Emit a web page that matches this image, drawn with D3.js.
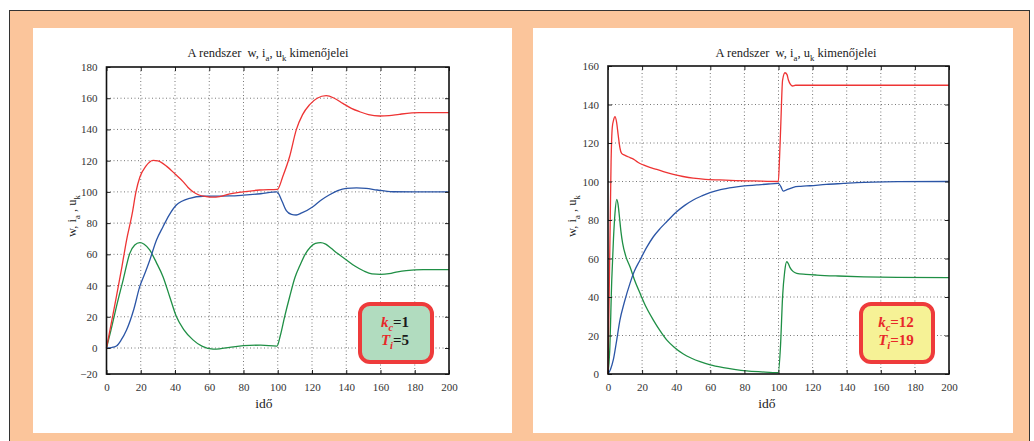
<!DOCTYPE html>
<html>
<head>
<meta charset="utf-8">
<script src="https://cdn.jsdelivr.net/npm/d3@7/dist/d3.min.js"></script>
<style>
  body { margin: 0; background: #fff; }
  svg { display: block; }
  svg text { font-family: "Liberation Serif", "DejaVu Serif", serif !important; white-space: pre; }
</style>
</head>
<body>
<script>
// ---- data ----
const timeTicks = [0, 20, 40, 60, 80, 100, 120, 140, 160, 180, 200];
const leftYTicks = [-20, 0, 20, 40, 60, 80, 100, 120, 140, 160, 180];
const rightYTicks = [0, 20, 40, 60, 80, 100, 120, 140, 160];

// left plot: kc = 1, Ti = 5   ([time, value])
const leftSpeed = [[0,0],[3,0.3],[5.8,1.3],[8.5,5],[11.7,11.5],[16,25],[19.4,39.3],[22.5,48],[25.3,56.4],[29.2,69.2],[33,77.7],[36.5,85],[40.8,91.6],[44,94],[48.6,95.9],[56.3,97.2],[65,97.3],[72,97.4],[80,97.9],[90,98.8],[99.5,100],[102.5,94],[105,88],[108,85.6],[110.8,85.2],[114,86.5],[120.5,90.5],[125,94.5],[130,98],[135,100.8],[140,102.3],[146,102.6],[151.6,102.3],[158,101.2],[167,100.1],[180,100],[200,100]];
const leftCurrent = [[0,0],[3,17],[5.8,33],[9,52],[11.7,69],[15,86],[17.2,100],[19.5,109.5],[23,116.5],[27.2,120.2],[30,119.8],[35,116.5],[40,111.5],[44.7,106.6],[47.5,103],[50.5,100.1],[54,98],[58.3,97],[62,96.6],[66,97],[72,98.7],[79.7,100],[89.4,101.2],[99.8,101.6],[103,110],[106.9,122.5],[110.8,139.7],[114.5,149.5],[118.5,155.7],[123,160],[128.3,161.6],[133,160],[138,156.7],[143,153.5],[147.7,151.4],[153,149.5],[159.4,148.6],[165,148.8],[171,149.7],[182.7,150.8],[200,150.8]];
const leftVoltage = [[0,0],[2.5,11],[5.8,26.5],[9.7,43.5],[13.6,60.6],[16.5,66],[19.4,67.5],[22,66.5],[25.2,62.8],[29,55],[33,45.7],[37,32.5],[40.8,20.1],[45,12],[50.5,5.2],[56,1],[62.2,-0.8],[66,-0.6],[71.9,0.4],[80,1.5],[90,1.8],[99.5,1.2],[101.5,8],[104,20],[107,33],[110,45],[113,53],[116,60],[119,64.5],[122,67],[125,67.5],[128,66.5],[131,64],[135,60.5],[140,56.5],[145,52.5],[150,49.5],[155,47.5],[160,47.2],[165,47.6],[170,48.8],[175,49.6],[185,50.2],[200,50.2]];

// right plot: kc = 12, Ti = 19
const rightSpeed = [[0,0],[1.5,2.5],[3.1,7.3],[5,17],[7,28],[9.5,37],[12.9,47.1],[15.5,53.5],[18.8,59.2],[22.5,65.5],[26.6,71.3],[30.5,75.5],[34.4,79.1],[40.3,84.3],[45,87.6],[50,90.4],[55,92.5],[59.8,94.2],[66,95.8],[73.5,97],[80,97.7],[87.2,98.2],[94,98.7],[99.9,99],[101.3,97.5],[102.8,95],[105,95.8],[108.7,97],[113,97.5],[118.5,97.8],[128,98.5],[138,99],[146,99.4],[155.6,99.7],[170,99.9],[200,100]];
const rightCurrent = [[0,0],[1,60],[1.8,110],[2.5,128],[3.3,132],[4.1,133.7],[5,131],[6,124],[7,117.5],[8,114.6],[10,113.6],[12.9,112.4],[14.9,111.6],[17.5,110],[20.7,108.6],[24.5,107.3],[28.6,106.3],[33,105],[38.3,103.7],[44,102.6],[50,101.7],[57,101.1],[65.7,100.8],[75,100.5],[85.2,100.3],[99.9,100],[100.6,112],[101.3,128.5],[102.4,152.7],[103.8,156.5],[105,155.5],[105.8,152.7],[107,150.5],[108.3,149.6],[110,150],[130,150],[160,150],[200,150]];
const rightVoltage = [[0,0],[1,12],[2.2,48.8],[3.2,70],[4.1,83.5],[5.1,90.7],[6,87.5],[6.7,81.7],[7.6,74],[8.6,67.9],[10.5,61],[12.9,55.7],[15.5,49],[18.8,41.9],[22.5,34.5],[26.6,28],[30.5,22.5],[34.4,17.7],[39,13.8],[44.2,10.4],[49,8.2],[54,6.4],[60,4.7],[67.6,3.3],[74,2.4],[81.3,1.6],[90,1.1],[99.9,0.7],[101.2,15],[102.4,40.2],[103.6,53],[104.8,58.3],[105.8,57.3],[106.7,55.4],[108.5,53.3],[110.7,52.3],[116,51.8],[122.4,51.4],[135,50.9],[150,50.5],[170,50.2],[200,50.1]];

const lineColors = { speed: "#2b55a6", current: "#ee3434", voltage: "#1f8f45" };
const serif = "'Liberation Serif', 'DejaVu Serif', serif";

// ---- page ----
const W = 1034, H = 441;
const svg = d3.select("body").append("svg")
    .attr("width", W)
    .attr("height", H)
    .attr("font-family", serif);

// orange frame
svg.append("rect")
    .attr("x", 9.5).attr("y", 10.5)
    .attr("width", 1020).attr("height", 440)
    .attr("fill", "#fbc59b")
    .attr("stroke", "#333")
    .attr("stroke-width", 1);

// white sheets
svg.append("rect").attr("x", 33).attr("y", 28).attr("width", 479).attr("height", 405).attr("fill", "#fff");
svg.append("rect").attr("x", 533).attr("y", 28).attr("width", 480).attr("height", 405).attr("fill", "#fff");

// text made of pieces, with subscripts
function richText(g, x, y, parts, size, anchor) {
    let t = g.append("text")
        .attr("x", x).attr("y", y)
        .attr("text-anchor", anchor || "middle")
        .attr("font-family", serif)
        .style("font-size", size + "px");
    let shift = 0;
    parts.forEach(p => {
        let dy = (p.sub ? size * 0.28 : 0) - shift;
        shift += dy;
        let s = t.append("tspan")
            .attr("dy", dy)
            .style("font-size", (p.sub ? size * 0.7 : size) + "px")
            .text(p.t);
        if (p.fill) s.attr("fill", p.fill);
        if (p.italic) s.style("font-style", "italic");
        if (p.bold) s.style("font-weight", "bold");
    });
    return t;
}

const titleParts = [{ t: "A rendszer  w, i" }, { t: "a", sub: true }, { t: ", u" }, { t: "k", sub: true }, { t: " kimenőjelei" }];
const ylabParts = [{ t: "w, i" }, { t: "a", sub: true }, { t: " , u" }, { t: "k", sub: true }];

function drawPanel(cfg) {
    const g = svg.append("g");
    const x = d3.scaleLinear().domain([0, 200]).range([cfg.x0, cfg.x1]);
    const y = d3.scaleLinear().domain(cfg.yDomain).range(cfg.yRange);
    const yTop = cfg.yRange[cfg.yRange.length - 1], yBot = cfg.yRange[0];

    // grid
    g.append("g").selectAll("line")
        .data(timeTicks.slice(1, -1))
        .enter().append("line")
        .attr("x1", d => x(d)).attr("x2", d => x(d))
        .attr("y1", yTop).attr("y2", yBot)
        .attr("stroke", "#555").attr("stroke-width", 0.8)
        .attr("stroke-dasharray", "1,2.5");
    g.append("g").selectAll("line")
        .data(cfg.yTicks.slice(1, -1))
        .enter().append("line")
        .attr("y1", d => y(d)).attr("y2", d => y(d))
        .attr("x1", cfg.x0).attr("x2", cfg.x1)
        .attr("stroke", "#555").attr("stroke-width", 0.8)
        .attr("stroke-dasharray", "1,2.5");

    // curves
    const line = d3.line()
        .x(d => x(d[0]))
        .y(d => y(d[1]))
        .curve(d3.curveMonotoneX);
    [["voltage", cfg.voltage], ["speed", cfg.speed], ["current", cfg.current]].forEach(([k, data]) => {
        g.append("path")
            .datum(data)
            .attr("d", line)
            .attr("fill", "none")
            .attr("stroke", lineColors[k])
            .attr("stroke-width", 1.3);
    });

    // axes: bottom/left with labels, top/right plain, ticks pointing in
    g.append("g")
        .attr("transform", `translate(0,${yBot})`)
        .call(d3.axisBottom(x).tickValues(timeTicks).tickSizeInner(-4).tickSizeOuter(0).tickPadding(9))
        .call(a => a.select(".domain").remove());
    g.append("g")
        .attr("transform", `translate(0,${yTop})`)
        .call(d3.axisTop(x).tickValues(timeTicks).tickSizeInner(-4).tickSizeOuter(0).tickFormat(""))
        .call(a => a.select(".domain").remove());
    g.append("g")
        .attr("transform", `translate(${cfg.x0},0)`)
        .call(d3.axisLeft(y).tickValues(cfg.yTicks).tickSizeInner(-4).tickSizeOuter(0).tickPadding(9))
        .call(a => a.select(".domain").remove());
    g.append("g")
        .attr("transform", `translate(${cfg.x1},0)`)
        .call(d3.axisRight(y).tickValues(cfg.yTicks).tickSizeInner(-4).tickSizeOuter(0).tickFormat(""))
        .call(a => a.select(".domain").remove());
    g.selectAll(".tick text")
        .attr("fill", "#333")
        .attr("font-family", serif)
        .style("font-size", "11px");
    g.selectAll(".tick line").attr("stroke", "#222");

    g.append("rect")
        .attr("x", cfg.x0).attr("y", yTop)
        .attr("width", cfg.x1 - cfg.x0).attr("height", yBot - yTop)
        .attr("fill", "none")
        .attr("stroke", "#111")
        .attr("stroke-width", 1.6);

    // labels
    richText(g, cfg.titleX, 57, titleParts, 12.5).attr("fill", "#222");
    g.append("text")
        .attr("x", cfg.xlabX).attr("y", 408)
        .attr("text-anchor", "middle")
        .attr("fill", "#222")
        .attr("font-family", serif)
        .style("font-size", "13.5px")
        .text("idő");
    richText(g, 0, 0, ylabParts, 12.5)
        .attr("fill", "#222")
        .attr("transform", `translate(${cfg.ylabX},216) rotate(-90)`);

    // parameter box
    const b = cfg.box;
    g.append("rect")
        .attr("x", b.x).attr("y", 304)
        .attr("width", 72).attr("height", 58)
        .attr("rx", 10)
        .attr("fill", b.fill)
        .attr("stroke", "#ee3b3b")
        .attr("stroke-width", 4);
    const red = "#e8282a";
    richText(g, b.x + 35, 327, [
        { t: "k", italic: true, bold: true, fill: red },
        { t: "c", sub: true, italic: true, bold: true, fill: red },
        { t: "=" + b.kc, bold: true, fill: b.valColor }
    ], 15);
    richText(g, b.x + 35, 345, [
        { t: "T", italic: true, bold: true, fill: red },
        { t: "i", sub: true, italic: true, bold: true, fill: red },
        { t: "=" + b.ti, bold: true, fill: b.valColor }
    ], 15);
}

drawPanel({
    x0: 106.5, x1: 449,
    yDomain: [-20, 0, 180], yRange: [374, 348, 67],
    yTicks: leftYTicks,
    speed: leftSpeed, current: leftCurrent, voltage: leftVoltage,
    titleX: 268, xlabX: 264, ylabX: 76,
    box: { x: 360, fill: "#b1dcbf", kc: 1, ti: 5, valColor: "#1a1a1a" }
});

drawPanel({
    x0: 608, x1: 949,
    yDomain: [0, 160], yRange: [374, 66],
    yTicks: rightYTicks,
    speed: rightSpeed, current: rightCurrent, voltage: rightVoltage,
    titleX: 796, xlabX: 767, ylabX: 576,
    box: { x: 861, fill: "#f6f296", kc: 12, ti: 19, valColor: "#e8282a" }
});
</script>
</body>
</html>
